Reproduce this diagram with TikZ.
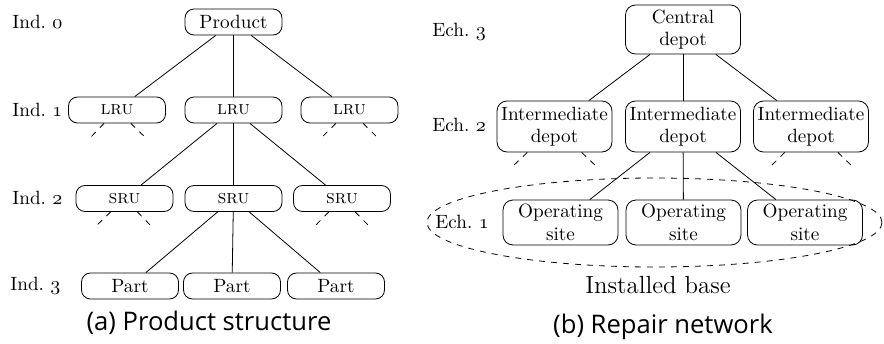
\documentclass[tikz,border=0pt]{standalone}
\usepackage{fontspec}
\newfontfamily\capfont{Open Sans}
\newcommand\osn[1]{{\usefont{OML}{cmm}{m}{it}#1}}
\begin{document}
\begin{tikzpicture}[x=0.5pt,y=-0.5pt,
  every node/.style={font=\fontsize{9.6}{11.2}\selectfont},
  lbox/.style={draw, rounded corners=4.5pt, minimum width=48.5pt, minimum height=13pt, inner sep=1pt},
  rbox/.style={draw, rounded corners=5pt, minimum width=57.5pt, inner sep=1pt, align=center},
  lvl/.style={anchor=west, inner sep=0pt},
  stub/.style={dashed},
  edge/.style={},
  capstyle/.style={font=\capfont\fontsize{12.8}{14}\selectfont}]
\useasboundingbox (0,0) rectangle (884,343);
% ---- left: product structure
\node[lvl] (i0) at (12,22) {Ind.\ \osn{0}};
\node[lvl] (i1) at (12,110) {Ind.\ \osn{1}};
\node[lvl] (i2) at (12,198) {Ind.\ \osn{2}};
\node[lvl] (i3) at (10,286) {Ind.\ \osn{3}};
\node[lbox] (prod) at (233.5,22) {Product};
\node[lbox] (lru1) at (117,110) {\textsc{lru}};
\node[lbox] (lru2) at (233.5,110) {\textsc{lru}};
\node[lbox] (lru3) at (349.5,110) {\textsc{lru}};
\node[lbox] (sru1) at (124.5,198.5) {\textsc{sru}};
\node[lbox] (sru2) at (233.5,198.5) {\textsc{sru}};
\node[lbox] (sru3) at (342,198.5) {\textsc{sru}};
\node[lbox] (part1) at (130,286) {Part};
\node[lbox] (part2) at (232,286) {Part};
\node[lbox] (part3) at (336,286) {Part};
\foreach \c in {lru1,lru2,lru3} \draw[edge] (prod) -- (\c);
\foreach \c in {sru1,sru2,sru3} \draw[edge] (lru2) -- (\c);
\foreach \c in {part1,part2,part3} \draw[edge] (sru2) -- (\c);
\coordinate (s1a) at (88,140);  \coordinate (s1b) at (148,140);
\coordinate (s3a) at (319,140); \coordinate (s3b) at (380,140);
\coordinate (t1a) at (94,228);  \coordinate (t1b) at (153,228);
\coordinate (t3a) at (313,228); \coordinate (t3b) at (371,228);
\draw[stub] (lru1) -- (s1a); \draw[stub] (lru1) -- (s1b);
\draw[stub] (lru3) -- (s3a); \draw[stub] (lru3) -- (s3b);
\draw[stub] (sru1) -- (t1a); \draw[stub] (sru1) -- (t1b);
\draw[stub] (sru3) -- (t3a); \draw[stub] (sru3) -- (t3b);
\node[capstyle] (capa) at (209,323) {(a) Product structure};
% ---- right: repair network
\node[lvl] (e3) at (432,32) {Ech.\ \osn{3}};
\node[lvl] (e2) at (432,125) {Ech.\ \osn{2}};
\node[lvl] (e1) at (435,222) {Ech.\ \osn{1}};
\node[rbox, minimum height=24.5pt] (cen) at (683,29.5) {Central\\depot};
\node[rbox, minimum height=25.5pt] (int1) at (554.5,126.5) {Intermediate\\depot};
\node[rbox, minimum height=25.5pt] (int2) at (683,126.5) {Intermediate\\depot};
\node[rbox, minimum height=25.5pt] (int3) at (811,126.5) {Intermediate\\depot};
\node[rbox, minimum height=22.5pt] (op1) at (560.5,222.5) {Operating\\site};
\node[rbox, minimum height=22.5pt] (op2) at (683.5,222.5) {Operating\\site};
\node[rbox, minimum height=22.5pt] (op3) at (805,222.5) {Operating\\site};
\foreach \c in {int1,int2,int3} \draw[edge] (cen) -- (\c);
\foreach \c in {op1,op2,op3} \draw[edge] (int2) -- (\c);
\coordinate (u1a) at (512,167); \coordinate (u1b) at (597,167);
\coordinate (u3a) at (770,167); \coordinate (u3b) at (853,167);
\draw[stub] (int1) -- (u1a); \draw[stub] (int1) -- (u1b);
\draw[stub] (int3) -- (u3a); \draw[stub] (int3) -- (u3b);
\coordinate (ell) at (654.5,222.5);
\draw[dashed] (ell) ellipse [x radius=113.75pt, y radius=22.25pt];
\node[font=\fontsize{12.4}{14}\selectfont] (inst) at (658,285) {Installed base};
\node[capstyle] (capb) at (663,327) {(b) Repair network};
\end{tikzpicture}
\end{document}
